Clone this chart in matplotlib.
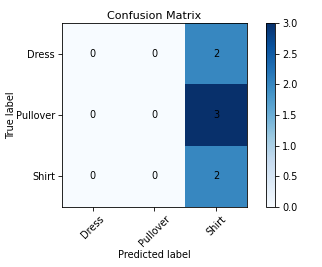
import numpy as np
import matplotlib
matplotlib.use("Agg")
import matplotlib.pyplot as plt

# Confusion matrix values
classes = ["Dress", "Pullover", "Shirt"]
cm = np.array([[0, 0, 2],
               [0, 0, 3],
               [0, 0, 2]])

fig = plt.figure(figsize=(3.22, 2.67), dpi=100)
ax = fig.add_axes([0.1925, 0.2247, 0.5745, 0.689])
cax = fig.add_axes([0.826, 0.2247, 0.029, 0.689])

im = ax.imshow(cm, interpolation="nearest", cmap=plt.cm.Blues, aspect="auto")
cb = fig.colorbar(im, cax=cax)
cb.ax.tick_params(labelsize=7, length=3, width=0.6, pad=2)
cb.outline.set_linewidth(0.6)

ax.set_title("Confusion Matrix", fontsize=8, pad=3)
ticks = np.arange(len(classes))
ax.set_xticks(ticks)
ax.set_xticklabels(classes, rotation=45, fontsize=7)
ax.set_yticks(ticks)
ax.set_yticklabels(classes, fontsize=7)
ax.tick_params(length=3, width=0.6, pad=2)
for s in ax.spines.values():
    s.set_linewidth(0.6)

for i in range(cm.shape[0]):
    for j in range(cm.shape[1]):
        ax.text(j, i, str(cm[i, j]), ha="center", va="center",
                color="black", fontsize=7)

ax.set_ylabel("True label", fontsize=7)
ax.yaxis.set_label_coords(-0.25, 0.5)
ax.set_xlabel("Predicted label", fontsize=7, labelpad=1)

fig.savefig("out.png", dpi=100)
